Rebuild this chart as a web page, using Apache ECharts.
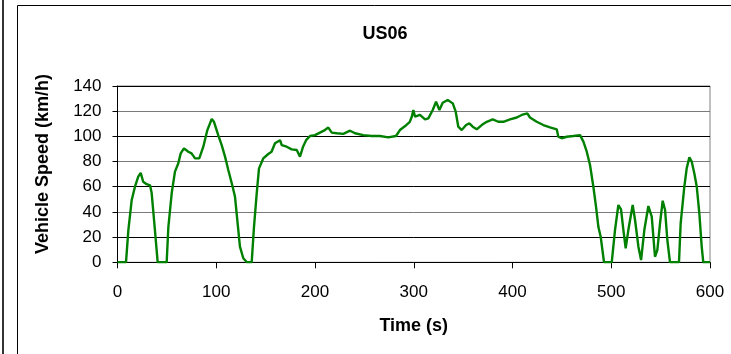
<!DOCTYPE html>
<html>
<head>
<meta charset="utf-8">
<title>US06</title>
<script src="https://cdn.jsdelivr.net/npm/echarts@6/dist/echarts.min.js"></script>
<style>
  html, body { margin: 0; padding: 0; background: #fff; }
  #chart { width: 731px; height: 354px; }
</style>
</head>
<body>
<div id="chart"></div>
<script>
// US06 drive cycle: time (s) and vehicle speed (km/h)
const timeSec = [
  0, 8.6, 11, 14.4, 17.7, 21, 23.5, 26, 29.5, 33, 34.6, 37.3, 40.7,
  49.8, 51.5, 54.9, 58.2, 61.6, 64, 67.3, 71.7, 75, 78.5, 82.8, 86.9, 91, 95.4, 97.7,
  102, 105.5, 108.9, 112.2, 116.6, 119, 121.3, 124, 127.4, 131,
  135.9, 138.2, 141, 143.3, 147.6, 152.7, 156, 159.5, 164.6, 166.3, 171.3, 176.4, 181.5, 184.8,
  188, 191, 195, 200, 205, 210, 213.5, 217, 222, 228.7, 235.5, 240.5, 248.9, 257.4, 265.8, 274.2, 282,
  286, 291, 296, 298, 299.6, 301.3, 306.3, 311.4, 314.8, 319.2, 322.6, 326, 329.3, 334.4, 339.5, 342.5,
  345.1, 348.6, 353, 356.3, 359.7, 363.8, 368.8, 373.9, 380, 385.6, 390.7, 397.5, 404.3, 409.3, 415, 417.7,
  424.5, 431.2, 438, 444.8, 446.4, 449.8, 454.9, 461.6, 468.4, 471.8, 475.2, 478.5, 481.9, 484.6, 487, 489.3, 492.7,
  500.5, 503.8, 507.2, 509.9, 512.3, 514.6, 517.3, 521.7, 524.1, 527.5, 530.2, 533.5, 537.6, 541, 544.3, 546.7,
  549.4, 552.1, 554.5, 556.8, 559.5, 568.6, 570.3, 574, 576.4, 579.1, 581.5, 584.1, 586.6, 589.2, 591.6, 593.2, 600
];
const speedKmh = [
  0, 0, 25.6, 49.5, 60, 68, 71, 64, 62, 61, 55, 31, 0,
  0, 28, 55, 72, 78.6, 86.5, 90.5, 87.8, 86.5, 82.5, 82.5, 91.8, 105, 113.8, 111.6,
  101, 93, 83.9, 73.3, 60, 52, 33.6, 12.4, 3.2, 0,
  0, 28, 55, 74.6, 82.5, 86, 87.8, 94.5, 97, 93, 91.8, 89.7, 89.2, 83.9,
  92, 97, 100.3, 101, 103, 105, 107, 103, 102.5, 102, 104.5, 102.5, 101, 100.3, 100.3, 99.2, 100.3,
  105, 108, 111.6, 115.6, 121, 115.6, 117, 113.5, 114.3, 121, 127.5, 121, 126.7, 128.9, 126.2, 119.6,
  107.7, 105, 109, 110.3, 107.7, 105.6, 109, 111.6, 113.5, 111.6, 111.6, 113.5, 115, 117, 118.3, 115,
  111.6, 109, 107.2, 105.6, 99.7, 98.5, 99.7, 100.3, 101, 95.8, 87.8, 77.3, 60, 44, 28, 20.3, 0,
  0, 25.6, 45.5, 42, 25.6, 11.1, 25.6, 45.5, 33.6, 12.4, 1.8, 25.6, 44.7, 36.2, 4.4, 9.8,
  31, 48.9, 41.5, 17.7, 0, 0, 31, 60, 74.6, 83.4, 79.9, 70.7, 60, 38.9, 12.4, 0, 0
];

const titleText = 'US06';
const xAxisName = 'Time (s)';
const yAxisName = 'Vehicle Speed (km/h)';

const fontFamily = 'Liberation Sans, Arial, sans-serif';
const chart = echarts.init(document.getElementById('chart'), null, { renderer: 'canvas' });

chart.setOption({
  backgroundColor: '#ffffff',
  animation: false,
  title: {
    text: titleText,
    left: 380,
    top: 20,
    textAlign: 'center',
    textStyle: { fontFamily, fontSize: 18, fontWeight: 'bold', color: '#000' }
  },
  graphic: [
    // chart frame and neighbouring frame edge
    { type: 'rect', silent: true, shape: { x: 17.5, y: 5.5, width: 730, height: 360 },
      style: { fill: 'none', stroke: '#000', lineWidth: 1 } },
    { type: 'line', silent: true, shape: { x1: 3, y1: 0, x2: 3, y2: 354 },
      style: { stroke: '#333', lineWidth: 2 } },
    { type: 'text', silent: true, x: 43, y: 164, rotation: Math.PI / 2,
      style: { text: yAxisName, fontFamily, fontSize: 18, fontWeight: 'bold', fill: '#000',
               align: 'center', verticalAlign: 'middle' } }
  ],
  grid: {
    left: 117.5, right: 21, top: 86, bottom: 91.7,
    show: true, borderColor: '#808080', borderWidth: 1, backgroundColor: 'transparent'
  },
  xAxis: {
    type: 'value', min: 0, max: 600, interval: 100,
    name: xAxisName, nameLocation: 'middle', nameGap: 55,
    nameTextStyle: { fontFamily, fontSize: 18, fontWeight: 'bold', color: '#000' },
    axisLine: { show: true, lineStyle: { color: '#000', width: 1 } },
    axisTick: { show: true, inside: false, length: 6, lineStyle: { color: '#000' } },
    axisLabel: { fontFamily, fontSize: 17, color: '#000', margin: 22 },
    splitLine: { show: false }
  },
  yAxis: {
    type: 'value', min: 0, max: 140, interval: 20,
    axisLine: { show: true, onZero: false, lineStyle: { color: '#000', width: 1 } },
    axisTick: { show: true, inside: false, length: 5, lineStyle: { color: '#000' } },
    axisLabel: { fontFamily, fontSize: 17, color: '#000', margin: 16 },
    splitLine: { show: true, lineStyle: { color: ['#7a7a7a', '#000'], width: 1 } }
  },
  series: [{
    type: 'line',
    data: timeSec.map((t, i) => [t, speedKmh[i]]),
    showSymbol: false,
    smooth: false,
    lineStyle: { color: '#008000', width: 2.4 },
    itemStyle: { color: '#008000' }
  }]
});
</script>
</body>
</html>
